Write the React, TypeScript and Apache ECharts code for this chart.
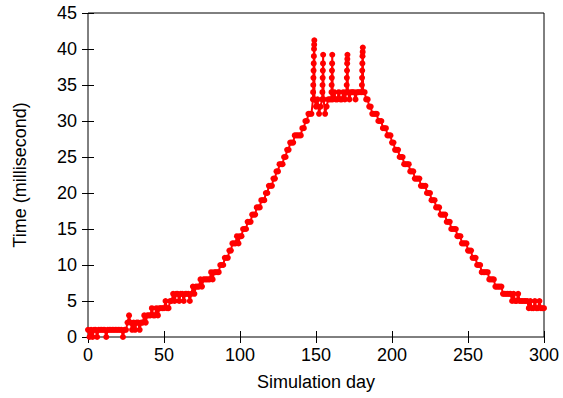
import React, { useEffect, useRef } from "react";
import * as echarts from "echarts";

// Time (ms) per simulation day, index = day (0..300)
const times: number[] = [
  1, 0, 1, 0, 1, 1, 0, 1, 1, 1, 1, 1, 0, 1, 1, 1, 1, 1, 1, 1,
  1, 1, 1, 0, 1, 1, 2, 3, 2, 1, 2, 1, 2, 2, 1, 2, 2, 3, 2, 3,
  3, 3, 4, 3, 3, 4, 3, 4, 4, 4, 4, 5, 4, 4, 5, 5, 6, 5, 6, 6,
  5, 6, 6, 5, 6, 6, 6, 5, 6, 7, 6, 7, 7, 7, 8, 7, 8, 8, 8, 8,
  8, 9, 8, 9, 9, 9, 9, 10, 10, 10, 11, 11, 11, 12, 12, 13, 13, 13, 14, 13,
  14, 14, 15, 15, 15, 16, 16, 16, 17, 17, 17, 18, 18, 18, 19, 19, 19, 20, 20, 21,
  21, 21, 22, 22, 23, 23, 24, 24, 24, 25, 25, 26, 26, 27, 27, 27, 28, 28, 28, 28,
  28, 29, 29, 30, 30, 31, 31, 31, 33, 33, 32, 33, 31, 32, 33, 33, 31, 32, 33, 33,
  33, 33, 34, 33, 33, 34, 33, 33, 34, 33, 34, 34, 33, 34, 34, 34, 33, 34, 34, 34,
  34, 34, 34, 33, 33, 32, 32, 31, 31, 31, 31, 30, 30, 30, 29, 29, 29, 28, 28, 28,
  27, 27, 26, 26, 26, 25, 25, 25, 24, 24, 24, 24, 23, 23, 23, 22, 22, 22, 22, 21,
  21, 21, 21, 20, 20, 20, 19, 19, 19, 18, 18, 18, 17, 17, 17, 17, 16, 16, 16, 15,
  15, 15, 15, 14, 14, 14, 13, 13, 13, 13, 12, 12, 12, 11, 11, 11, 10, 10, 10, 9,
  9, 9, 9, 9, 8, 8, 8, 8, 7, 7, 7, 7, 7, 6, 6, 6, 6, 6, 6, 5,
  6, 5, 5, 6, 5, 5, 5, 5, 5, 5, 4, 5, 4, 4, 5, 4, 4, 5, 4, 4,
  4,
];

// Short bursts within a day near the peak (day, ms)
const spikeDays: number[] = [
  148.1, 148.2, 148.3, 148.4, 148.5, 148.6, 148.7, 148.8, 148.9,
  154.2, 154.3, 154.4, 154.5, 154.6, 154.7,
  160.2, 160.3, 160.4, 160.5, 160.6, 160.7,
  170.2, 170.3, 170.4, 170.5, 170.6, 170.7,
  180.2, 180.3, 180.4, 180.5, 180.6, 180.7, 180.8,
];
const spikeTimes: number[] = [
  34, 35, 36, 37, 38, 39, 40, 40.6, 41.2,
  34, 35, 36, 37, 38, 39.2,
  34, 35, 36, 37, 38, 39.2,
  35, 36, 37, 38, 38.6, 39.2,
  35, 36, 37, 38, 39, 39.6, 40.2,
];

const xTicks: number[] = [0, 50, 100, 150, 200, 250, 300];
const yTicks: number[] = [0, 5, 10, 15, 20, 25, 30, 35, 40, 45];

export default function App() {
  const ref = useRef<HTMLDivElement>(null);
  useEffect(() => {
    if (!ref.current) return;
    const chart = echarts.init(ref.current, undefined, { renderer: "svg" });
    const pts: [number, number][] = times.map((t, i) => [i, t]);
    spikeDays.forEach((d, i) => pts.push([d, spikeTimes[i]]));
    pts.sort((a, b) => a[0] - b[0]);
    const font = "'Liberation Sans', Arial, sans-serif";
    const fs = 18;
    const axisCommon = {
      type: "value" as const,
      axisLine: { show: false },
      splitLine: { show: false },
      axisTick: { show: true, inside: true, length: 6, lineStyle: { color: "#000", width: 1 } },
    };
    chart.setOption({
      animation: false,
      backgroundColor: "#fff",
      grid: {
        left: 88,
        right: 19,
        top: 13,
        bottom: 61,
        show: true,
        borderColor: "#000",
        borderWidth: 1,
        backgroundColor: "transparent",
      },
      xAxis: [
        {
          ...axisCommon,
          min: xTicks[0],
          max: xTicks[xTicks.length - 1],
          interval: 50,
          name: "Simulation day",
          nameLocation: "middle",
          nameGap: 36,
          nameTextStyle: { fontFamily: font, fontSize: fs, color: "#000" },
          axisLabel: { fontFamily: font, fontSize: fs, color: "#000", margin: 9 },
        },
        {
          ...axisCommon,
          position: "top",
          min: xTicks[0],
          max: xTicks[xTicks.length - 1],
          interval: 50,
          axisLabel: { show: false },
        },
      ],
      yAxis: [
        {
          ...axisCommon,
          min: yTicks[0],
          max: yTicks[yTicks.length - 1],
          interval: 5,
          name: "Time (millisecond)",
          nameLocation: "middle",
          nameGap: 59,
          nameTextStyle: { fontFamily: font, fontSize: fs, color: "#000" },
          axisLabel: { fontFamily: font, fontSize: fs, color: "#000", margin: 11 },
        },
        {
          ...axisCommon,
          position: "right",
          min: yTicks[0],
          max: yTicks[yTicks.length - 1],
          interval: 5,
          axisLabel: { show: false },
        },
      ],
      series: [
        {
          type: "line",
          data: pts,
          xAxisIndex: 0,
          yAxisIndex: 0,
          symbol: "circle",
          symbolSize: 6,
          showSymbol: true,
          showAllSymbol: true,
          clip: false,
          itemStyle: { color: "#ff0000" },
          lineStyle: { color: "#ff0000", width: 2 },
        },
      ],
    });
    return () => chart.dispose();
  }, []);
  return <div ref={ref} style={{ width: 563, height: 398, position: "absolute", left: 0, top: 0 }} />;
}
